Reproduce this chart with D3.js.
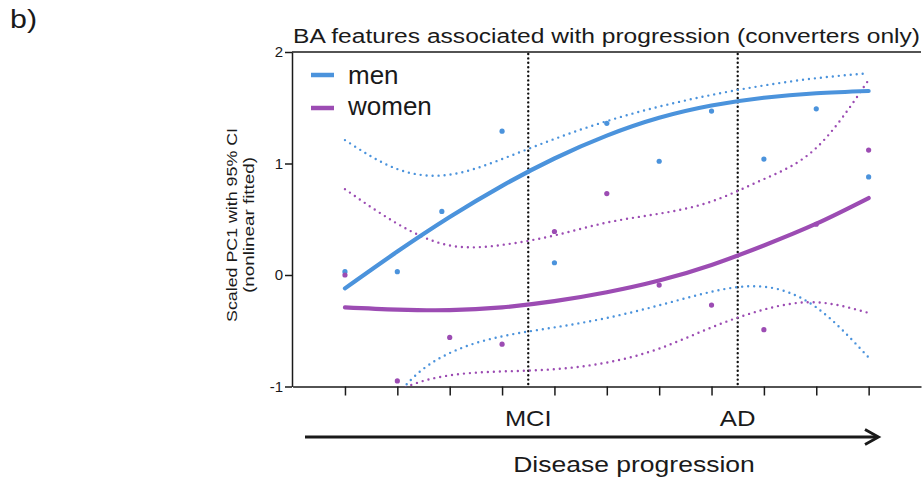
<!DOCTYPE html>
<html><head><meta charset="utf-8">
<script src="https://cdn.jsdelivr.net/npm/d3@7"></script>
<style>body{margin:0;background:#fff}svg{display:block;font-family:"Liberation Sans",Arial,sans-serif}</style>
</head><body><svg id="c" width="924" height="481"></svg>
<script>
// ---- data ----
const xTicks = [1,2,3,4,5,6,7,8,9,10,11];
const stageLabels = ["MCI","AD"];
const stagePos = [4.5, 8.5];
const yTicks = [-1,0,1,2];
const yTickLabels = ["-1","0","1","2"];
// observed points
const menX   = [1,2,2.85,4,5,6,7,8,9,10,11];
const menY   = [0.03,0.03,0.57,1.29,0.11,1.36,1.02,1.47,1.04,1.49,0.88];
const womenX = [1,2,3,4,5,6,7,8,9,10,11];
const womenY = [0.0,-0.95,-0.56,-0.62,0.39,0.73,-0.09,-0.27,-0.49,0.455,1.12];
// fitted curves and 95% CI (at ticks 1..11)
const fitX       = [1,2,3,4,5,6,7,8,9,10,11];
const menFit     = [-0.12,0.21,0.52,0.80,1.045,1.25,1.41,1.52,1.59,1.63,1.65];
const menUpper   = [1.21,0.95,0.90,1.04,1.22,1.38,1.51,1.615,1.70,1.765,1.81];
const menLower   = [-1.9,-1.08,-0.70,-0.55,-0.47,-0.385,-0.272,-0.15,-0.105,-0.29,-0.74];
const womenFit   = [-0.29,-0.31,-0.315,-0.29,-0.235,-0.155,-0.05,0.09,0.265,0.46,0.69];
const womenUpper = [0.77,0.46,0.265,0.27,0.355,0.47,0.55,0.66,0.86,1.14,1.75];
const womenLower = [-1.35,-1.04,-0.90,-0.865,-0.845,-0.785,-0.66,-0.47,-0.31,-0.245,-0.34];

const blue = "#4b93dc", purple = "#9c4cb3", ink = "#1a1a1a";
const svg = d3.select("#c");
const L = 292, R = 921, T = 52, B = 386.5;
const x = d3.scaleLinear().domain([0,12]).range([L+0.6,R]);
const y = d3.scaleLinear().domain([-1,2]).range([B,T]);

svg.append("defs").append("clipPath").attr("id","clip")
  .append("rect").attr("x",L).attr("y",T).attr("width",R-L).attr("height",B-T);

function txt(s,xx,yy,size,len,anchor){
  return svg.append("text").attr("x",xx).attr("y",yy).attr("font-size",size).attr("fill",ink)
    .attr("text-anchor",anchor||"start").attr("textLength",len).attr("lengthAdjust","spacingAndGlyphs").text(s);
}
// panel label and title
txt("b)",10,28,25,27);
txt("BA features associated with progression (converters only)",293,42.5,20,627);

// frame top
svg.append("line").attr("x1",L).attr("x2",R).attr("y1",T).attr("y2",T).attr("stroke",ink).attr("stroke-width",1.5);

// axes
const xa = svg.append("g").attr("transform",`translate(0,${B})`)
  .call(d3.axisBottom(x).tickValues(xTicks).tickFormat("").tickSize(9).tickSizeOuter(0));
const ya = svg.append("g").attr("transform",`translate(${L},0)`)
  .call(d3.axisLeft(y).tickValues(yTicks).tickFormat((d,i)=>yTickLabels[i]).tickSize(7).tickSizeOuter(0).tickPadding(2));
[xa,ya].forEach(g=>{g.selectAll("path,line").attr("stroke",ink).attr("stroke-width",1.5);});
ya.selectAll("text").attr("font-size",15).attr("fill",ink).attr("font-family","Liberation Sans, Arial, sans-serif");

// y label
const yl = svg.append("text").attr("transform","translate(237,225) rotate(-90)").attr("text-anchor","middle").attr("font-size",14.5).attr("fill",ink);
yl.append("tspan").attr("x",0).attr("y",0).attr("textLength",194).attr("lengthAdjust","spacingAndGlyphs").text("Scaled PC1 with 95% CI");
yl.append("tspan").attr("x",0).attr("y",17).attr("textLength",136).attr("lengthAdjust","spacingAndGlyphs").text("(nonlinear fitted)");

// stage dotted lines + labels
const stageLen = [46.7,35.7];
stagePos.forEach((p,i)=>{
  svg.append("line").attr("x1",x(p)).attr("x2",x(p)).attr("y1",T+2).attr("y2",B-2)
    .attr("stroke","#111").attr("stroke-width",2.4).attr("stroke-dasharray","0 4.4").attr("stroke-linecap","round");
  txt(stageLabels[i],x(p),425.5,22,stageLen[i],"middle");
});

const plot = svg.append("g").attr("clip-path","url(#clip)");
const line = d3.line().x(d=>x(d[0])).y(d=>y(d[1])).curve(d3.curveNatural);
function curve(vals,color,dotted){
  plot.append("path").attr("d",line(fitX.map((v,i)=>[v,vals[i]])))
    .attr("fill","none").attr("stroke",color)
    .attr("stroke-width",dotted?2.4:4.2).attr("stroke-linecap","round")
    .attr("stroke-dasharray",dotted?"0 6":null);
}
curve(menUpper,blue,true); curve(menLower,blue,true);
curve(womenUpper,purple,true); curve(womenLower,purple,true);
curve(menFit,blue,false); curve(womenFit,purple,false);

// points
svg.selectAll(".pm").data(menX).join("circle").attr("cx",d=>x(d)).attr("cy",(d,i)=>y(menY[i])).attr("r",2.6).attr("fill",blue);
svg.selectAll(".pw").data(womenX).join("circle").attr("cx",d=>x(d)).attr("cy",(d,i)=>y(womenY[i])).attr("r",2.6).attr("fill",purple);

// legend
const leg = [["men",blue],["women",purple]];
leg.forEach((d,i)=>{
  const ly = 75 + i*33;
  svg.append("line").attr("x1",311).attr("x2",334).attr("y1",ly).attr("y2",ly).attr("stroke",d[1]).attr("stroke-width",4.5);
  svg.append("text").attr("x",348).attr("y",83.5+i*31.5).attr("font-size",26).attr("fill",ink).text(d[0]);
});

// progression arrow
svg.append("line").attr("x1",305).attr("x2",877).attr("y1",437).attr("y2",437).attr("stroke",ink).attr("stroke-width",2.8);
svg.append("path").attr("d","M865,429.5 L878.5,437 L865,444.5").attr("fill","none").attr("stroke",ink).attr("stroke-width",2.8);
txt("Disease progression",634,472,22,241.7,"middle");
</script></body></html>
